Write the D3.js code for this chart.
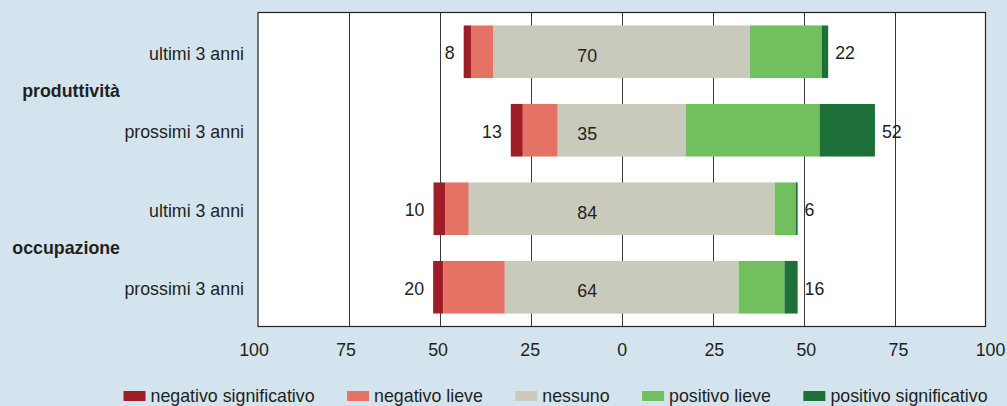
<!DOCTYPE html>
<html lang="it">
<head>
    <meta charset="UTF-8">
    <title>Produttività e occupazione</title>
    <script src="https://d3js.org/d3.v7.min.js"></script>
    <style>
        body {
            margin: 0;
            background: #d4e4ee;
            font-family: "Liberation Sans", Arial, Helvetica, sans-serif;
        }
        svg {
            display: block;
        }
        text {
            fill: #231f20;
            font-size: 17.8px;
        }
        .grid line {
            stroke: #3a3a3a;
            stroke-width: 1px;
        }
    </style>
</head>
<body>
    <svg id="chart" width="1007" height="406"></svg>
    <script>
        // data (percent of firms)
        var groups = ["produttività", "occupazione"];
        var periods = ["ultimi 3 anni", "prossimi 3 anni", "ultimi 3 anni", "prossimi 3 anni"];
        var negSig = [2.0, 3.3, 3.3, 2.8];
        var negLieve = [6.2, 9.6, 6.4, 16.9];
        var nessuno = [70.5, 35.2, 84.1, 64.3];
        var posLieve = [19.7, 36.8, 5.8, 12.6];
        var posSig = [1.8, 15.2, 0.5, 3.6];
        var negLabels = [8, 13, 10, 20];
        var midLabels = [70, 35, 84, 64];
        var posLabels = [22, 52, 6, 16];
        var tickValues = [-100, -75, -50, -25, 0, 25, 50, 75, 100];
        var seriesNames = ["negativo significativo", "negativo lieve", "nessuno", "positivo lieve", "positivo significativo"];
        var seriesColors = ["#9e1d27", "#e47366", "#c9c9bc", "#72bf5f", "#1d7038"];

        var margin = {top: 12.5, right: 21.5, bottom: 79.5, left: 258},
            width = 1007 - margin.left - margin.right,
            height = 406 - margin.top - margin.bottom;

        var svg = d3.select("#chart");
        var g = svg.append("g")
            .attr("transform", "translate(" + margin.left + "," + margin.top + ")");

        var x = d3.scaleLinear().domain([-100, 100]).range([0, width]);
        var y = d3.scaleBand().domain(d3.range(periods.length)).range([0, height])
            .paddingInner(0.33)
            .paddingOuter(0.165);

        // plot area
        g.append("rect")
            .attr("width", width)
            .attr("height", height)
            .attr("fill", "#fff");

        g.append("g")
            .attr("class", "grid")
            .selectAll("line")
            .data(tickValues.slice(1, -1))
            .enter().append("line")
            .attr("x1", function(d) { return Math.round(x(d)) + 0.5; })
            .attr("x2", function(d) { return Math.round(x(d)) + 0.5; })
            .attr("y1", 0)
            .attr("y2", height);

        // build stacked segments, "nessuno" centred on zero
        var rows = periods.map(function(p, i) {
            var vals = [negSig[i], negLieve[i], nessuno[i], posLieve[i], posSig[i]];
            var start = -nessuno[i] / 2 - negLieve[i] - negSig[i];
            var segs = [];
            vals.forEach(function(v, k) {
                segs.push({row: i, k: k, x0: start, x1: start + v});
                start += v;
            });
            return {i: i, segs: segs, left: segs[0].x0, right: segs[4].x1};
        });

        var bars = g.selectAll(".bar")
            .data(rows)
            .enter().append("g")
            .attr("class", "bar")
            .attr("transform", function(d) { return "translate(0," + y(d.i) + ")"; });

        bars.selectAll("rect")
            .data(function(d) { return d.segs; })
            .enter().append("rect")
            .attr("x", function(d) { return x(d.x0); })
            .attr("width", function(d) { return x(d.x1) - x(d.x0); })
            .attr("height", y.bandwidth())
            .attr("fill", function(d) { return seriesColors[d.k]; });

        var mid = y.bandwidth() / 2;

        bars.append("text")
            .attr("x", function(d) { return x(d.left) - 9; })
            .attr("y", mid + 7.5)
            .attr("text-anchor", "end")
            .text(function(d) { return negLabels[d.i]; });

        bars.append("text")
            .attr("x", x(-9.5))
            .attr("y", mid + 10)
            .attr("text-anchor", "middle")
            .text(function(d) { return midLabels[d.i]; });

        bars.append("text")
            .attr("x", function(d) { return x(d.right) + 7; })
            .attr("y", mid + 7.5)
            .text(function(d) { return posLabels[d.i]; });

        // frame
        g.append("rect")
            .attr("width", width)
            .attr("height", height)
            .attr("fill", "none")
            .attr("stroke", "#222")
            .attr("stroke-width", 1.2);

        // category labels
        g.selectAll(".period")
            .data(periods)
            .enter().append("text")
            .attr("class", "period")
            .attr("x", -14)
            .attr("y", function(d, i) { return y(i) + mid + 8; })
            .attr("text-anchor", "end")
            .text(function(d) { return d; });

        g.selectAll(".group")
            .data(groups)
            .enter().append("text")
            .attr("class", "group")
            .attr("x", 120 - margin.left)
            .attr("y", function(d, i) {
                return (y(i * 2) + y(i * 2 + 1)) / 2 + mid + 6;
            })
            .attr("text-anchor", "end")
            .style("font-weight", "bold")
            .text(function(d) { return d; });

        // x axis labels (absolute values)
        var xLab = x.copy().range([-4.5, width + 4.5]);
        var xAxis = g.append("g")
            .attr("transform", "translate(0," + height + ")")
            .call(d3.axisBottom(xLab)
                .tickValues(tickValues)
                .tickSize(0)
                .tickPadding(16.5)
                .tickFormat(function(d) { return Math.abs(d); }));
        xAxis.select(".domain").remove();
        xAxis.selectAll("text")
            .attr("fill", "#231f20")
            .style("font-size", "17.8px")
            .style("font-family", "\"Liberation Sans\", Arial, sans-serif");

        // legend
        var legend = svg.append("g").attr("transform", "translate(123.5,0)");
        var lx = 0;
        seriesNames.forEach(function(name, k) {
            var item = legend.append("g").attr("transform", "translate(" + lx + ",0)");
            item.append("rect")
                .attr("y", 391)
                .attr("width", 22)
                .attr("height", 10)
                .attr("fill", seriesColors[k]);
            var t = item.append("text")
                .attr("x", 27)
                .attr("y", 402)
                .text(name);
            lx += 27 + t.node().getComputedTextLength() + 32.5;
        });
    </script>
</body>
</html>
